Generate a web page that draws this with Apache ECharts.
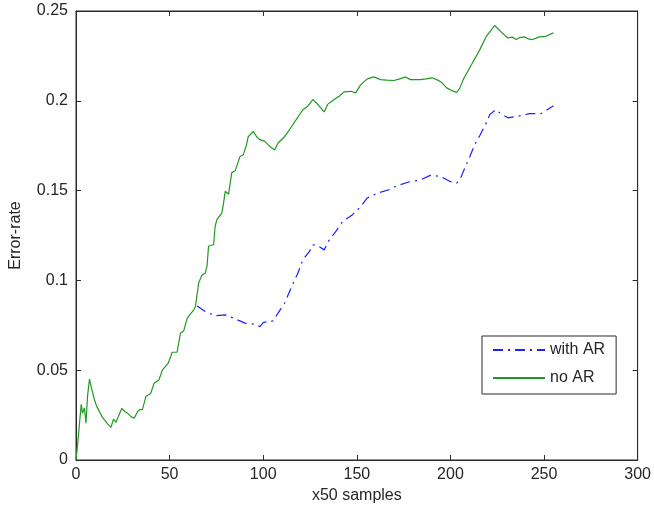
<!DOCTYPE html>
<html>
<head>
<meta charset="utf-8">
<title>Error-rate</title>
<script src="https://cdn.jsdelivr.net/npm/echarts@6/dist/echarts.min.js"></script>
<style>
  html, body { margin: 0; padding: 0; background: #ffffff; }
  #chart { width: 654px; height: 511px; }
</style>
</head>
<body>
<div id="chart"></div>
<script>
// x positions are in units of 50 samples
const xTicks = [0, 50, 100, 150, 200, 250, 300];
const yTicks = [0, 0.05, 0.1, 0.15, 0.2, 0.25];

const noArX = [0, 1, 2, 2.8, 3.5, 4, 4.5, 5.3, 6.2, 7.2, 8.5, 9.9, 11, 12.5, 14, 15.2, 17, 18.7, 20, 21.4,
  22.5, 24.5, 26, 27.6, 29.5, 31.1, 32.9, 34, 35.5, 37.3, 39.9, 41.7, 44.3, 46.1, 49.3, 51.4, 54, 55.8,
  57.6, 59.4, 62.9, 63.8, 64.7, 65.5, 67.3, 69, 70, 70.8, 73.5, 74.3, 75.3, 77.9, 78.8, 79.7, 81.5, 83.2,
  85, 87.6, 89.4, 91.1, 92, 94.7, 96.5, 98.2, 100.8, 103.5, 106.1, 107.9, 111.4, 114.1, 117.6, 121.2,
  123.8, 126.5, 129.1, 132.6, 134.4, 137.9, 140.6, 143.2, 146.8, 149.4, 152.1, 155.6, 159.1, 162.7, 166,
  169.7, 173, 175.9, 178.6, 183.9, 187, 190.1, 192.7, 195, 198, 200.7, 203.3, 205.1, 206.8, 211.3, 215.7,
  219.2, 223.6, 227.2, 230.7, 233, 235.1, 237, 239.5, 241.5, 243.9, 247.5, 251, 255];
const noArY = [0, 0.010, 0.022, 0.031, 0.026, 0.025, 0.029, 0.0205, 0.036, 0.045, 0.039, 0.0334, 0.030,
  0.027, 0.024, 0.0223, 0.020, 0.0182, 0.0227, 0.021, 0.024, 0.0288, 0.027, 0.026, 0.024, 0.0232, 0.027,
  0.028, 0.028, 0.0353, 0.037, 0.0427, 0.0446, 0.050, 0.054, 0.060, 0.060, 0.0706, 0.072, 0.079, 0.0836,
  0.0855, 0.0858, 0.0985, 0.103, 0.104, 0.108, 0.119, 0.120, 0.130, 0.134, 0.1375, 0.143, 0.1496, 0.148,
  0.160, 0.161, 0.169, 0.170, 0.1756, 0.180, 0.183, 0.180, 0.1784, 0.1774, 0.1746, 0.1726, 0.1765, 0.180,
  0.184, 0.1895, 0.195, 0.197, 0.2007, 0.198, 0.1938, 0.198, 0.2007, 0.2025, 0.205, 0.2053, 0.2044, 0.209,
  0.2122, 0.2133, 0.2118, 0.2115, 0.2113, 0.2122, 0.2133, 0.2118, 0.2118, 0.2122, 0.2128, 0.2118, 0.2105,
  0.2072, 0.2057, 0.2047, 0.2072, 0.2118, 0.2202, 0.2285, 0.2359, 0.2419, 0.2382, 0.235, 0.2355, 0.2341,
  0.2352, 0.2356, 0.2345, 0.2341, 0.2356, 0.2359, 0.2378];

const withArX = [64.7, 69, 74.3, 79.7, 84.1, 90.3, 95.5, 98.2, 100, 103, 105.3, 107.9, 111.4, 114.1, 116.8,
  118.5, 121.2, 124.7, 126.5, 129.1, 132.6, 135.3, 138.8, 142.4, 147.7, 152.1, 155.6, 160.9, 167.1, 171.5,
  177.7, 183.9, 189.2, 194.5, 199.8, 203.3, 205.1, 207.7, 210.4, 213, 215.7, 219.2, 221, 224.2, 226.3,
  230.7, 236, 242.2, 248.4, 251, 255];
const withArY = [0.0858, 0.0827, 0.0803, 0.0808, 0.079, 0.0762, 0.0756, 0.0743, 0.0765, 0.0772, 0.0775,
  0.0818, 0.0873, 0.0938, 0.1003, 0.104, 0.1115, 0.1161, 0.1198, 0.1193, 0.117, 0.1226, 0.1273, 0.1328,
  0.1366, 0.1412, 0.1459, 0.1485, 0.1505, 0.1527, 0.1548, 0.1559, 0.1585, 0.158, 0.1551, 0.1542, 0.1561,
  0.1626, 0.169, 0.1756, 0.1807, 0.1877, 0.1923, 0.1951, 0.1933, 0.1905, 0.1914, 0.1929, 0.1929, 0.1945,
  0.1973];

const seriesNames = ['with AR', 'no AR'];

const pairs = (xs, ys) => xs.map((x, i) => [x, ys[i]]);

const FONT = 'Liberation Sans, Arial, Helvetica, sans-serif';
const AXIS_COLOR = '#2b2b2b';
const TEXT_COLOR = '#262626';

const chart = echarts.init(document.getElementById('chart'), null, { renderer: 'canvas' });

const baseX = {
  type: 'value',
  min: xTicks[0],
  max: xTicks[xTicks.length - 1],
  interval: xTicks[1] - xTicks[0],
  splitLine: { show: false },
  axisLine: { show: true, onZero: false, lineStyle: { color: AXIS_COLOR, width: 1 } },
  axisTick: { show: true, inside: true, length: 5, lineStyle: { color: AXIS_COLOR } }
};
const baseY = {
  type: 'value',
  min: yTicks[0],
  max: yTicks[yTicks.length - 1],
  interval: yTicks[1] - yTicks[0],
  splitLine: { show: false },
  axisLine: { show: true, onZero: false, lineStyle: { color: AXIS_COLOR, width: 1 } },
  axisTick: { show: true, inside: true, length: 5, lineStyle: { color: AXIS_COLOR } }
};

chart.setOption({
  animation: false,
  backgroundColor: '#ffffff',
  textStyle: { fontFamily: FONT },
  grid: {
    left: 73, right: 15, top: 11, bottom: 51,
    show: true, borderColor: AXIS_COLOR, borderWidth: 1, backgroundColor: '#ffffff'
  },
  legend: {
    data: seriesNames,
    left: 482, top: 336,
    orient: 'vertical',
    padding: [6, 11, 8, 10],
    itemGap: 12,
    itemWidth: 52,
    itemHeight: 14,
    // line samples only, no marker in the middle
    itemStyle: { opacity: 0 },
    borderColor: AXIS_COLOR,
    borderWidth: 1,
    backgroundColor: '#ffffff',
    textStyle: { fontFamily: FONT, fontSize: 16, color: TEXT_COLOR }
  },
  xAxis: [
    Object.assign({}, baseX, {
      position: 'bottom',
      name: 'x50 samples',
      nameLocation: 'middle',
      nameGap: 28,
      nameTextStyle: { fontFamily: FONT, fontSize: 16, color: TEXT_COLOR },
      axisLabel: { margin: 7, fontFamily: FONT, fontSize: 16, color: TEXT_COLOR }
    }),
    Object.assign({}, baseX, { position: 'top', axisLabel: { show: false } })
  ],
  yAxis: [
    Object.assign({}, baseY, {
      position: 'left',
      name: 'Error-rate',
      nameLocation: 'middle',
      nameGap: 52,
      nameTextStyle: { fontFamily: FONT, fontSize: 16, color: TEXT_COLOR },
      axisLabel: { margin: 8, fontFamily: FONT, fontSize: 16, color: TEXT_COLOR }
    }),
    Object.assign({}, baseY, { position: 'right', axisLabel: { show: false } })
  ],
  series: [
    {
      name: seriesNames[0],
      type: 'line',
      xAxisIndex: 0, yAxisIndex: 0,
      data: pairs(withArX, withArY),
      symbol: 'none',
      showSymbol: false,
      z: 3,
      color: '#1f1fff',
      lineStyle: { color: '#1f1fff', width: 1.2, type: [10, 5, 2, 5] }
    },
    {
      name: seriesNames[1],
      type: 'line',
      xAxisIndex: 0, yAxisIndex: 0,
      data: pairs(noArX, noArY),
      symbol: 'none',
      showSymbol: false,
      z: 2,
      color: '#229922',
      lineStyle: { color: '#229922', width: 1.2 }
    }
  ]
});
</script>
</body>
</html>
